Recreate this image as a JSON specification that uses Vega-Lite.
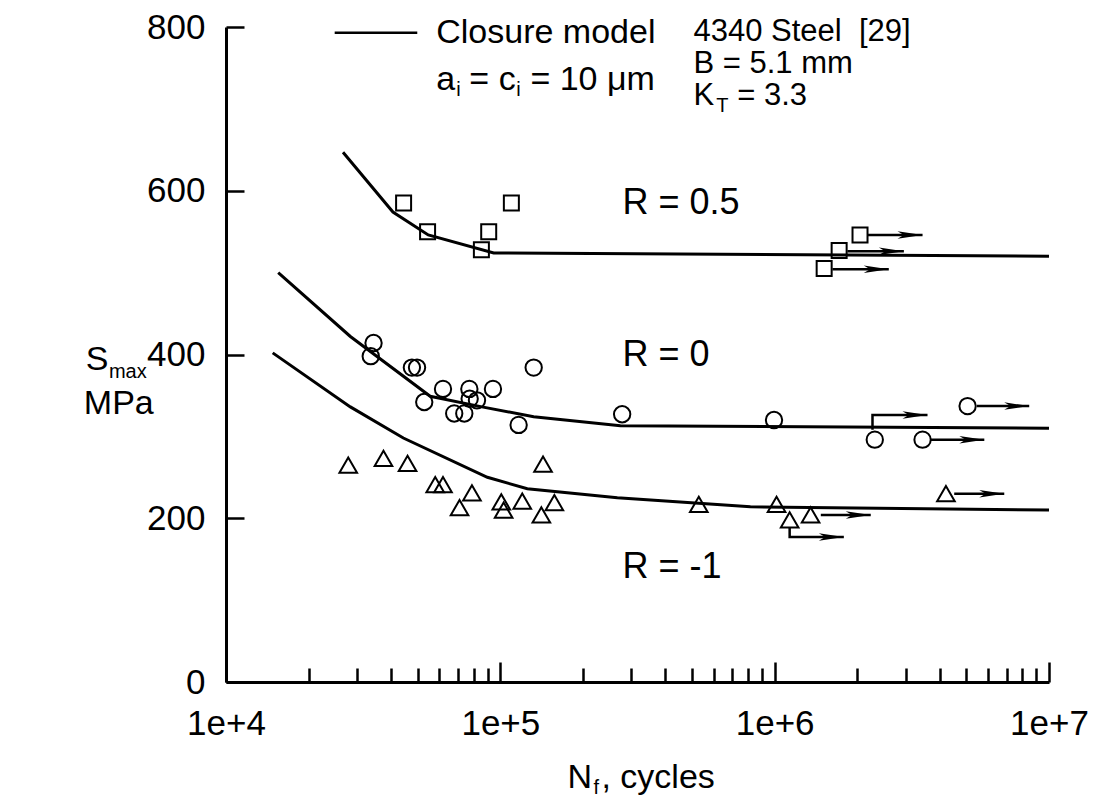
{
  "$schema": "https://vega.github.io/schema/vega-lite/v6.json",
  "width": 823,
  "height": 655,
  "autosize": {"type": "none"},
  "padding": {"left": 226, "top": 27, "right": 45, "bottom": 120},
  "background": "white",
  "config": {
    "view": {"stroke": null},
    "font": "Liberation Sans",
    "axis": {
      "domainColor": "black", "domainWidth": 3, "tickColor": "black", "tickWidth": 2.5,
      "labelColor": "black", "labelFont": "Liberation Sans", "labelFontSize": 35, "grid": false, "labelFlush": false
    }
  },
  "datasets": {
    "curves": [
      {"R": "0.5", "N": 26700, "S": 647}, {"R": "0.5", "N": 40600, "S": 574}, {"R": "0.5", "N": 54600, "S": 546},
      {"R": "0.5", "N": 94600, "S": 524}, {"R": "0.5", "N": 10000000, "S": 520},
      {"R": "0", "N": 15500, "S": 500}, {"R": "0", "N": 28400, "S": 422}, {"R": "0", "N": 55500, "S": 349},
      {"R": "0", "N": 85700, "S": 336}, {"R": "0", "N": 132300, "S": 324}, {"R": "0", "N": 274000, "S": 313},
      {"R": "0", "N": 10000000, "S": 310},
      {"R": "-1", "N": 14800, "S": 402}, {"R": "-1", "N": 28400, "S": 336}, {"R": "-1", "N": 44300, "S": 298},
      {"R": "-1", "N": 89700, "S": 250}, {"R": "-1", "N": 125400, "S": 236}, {"R": "-1", "N": 267000, "S": 225},
      {"R": "-1", "N": 816000, "S": 214}, {"R": "-1", "N": 10000000, "S": 210}
    ],
    "points": [
      {"R": "0.5", "N": 44400, "S": 585}, {"R": "0.5", "N": 54300, "S": 550}, {"R": "0.5", "N": 85300, "S": 528},
      {"R": "0.5", "N": 90700, "S": 550}, {"R": "0.5", "N": 109700, "S": 585}, {"R": "0.5", "N": 1515000, "S": 505},
      {"R": "0.5", "N": 1718000, "S": 527}, {"R": "0.5", "N": 2047000, "S": 546},
      {"R": "0", "N": 33700, "S": 398}, {"R": "0", "N": 34500, "S": 414}, {"R": "0", "N": 47600, "S": 384},
      {"R": "0", "N": 49700, "S": 384}, {"R": "0", "N": 52800, "S": 342}, {"R": "0", "N": 61800, "S": 358},
      {"R": "0", "N": 67900, "S": 328}, {"R": "0", "N": 73900, "S": 328}, {"R": "0", "N": 77100, "S": 358},
      {"R": "0", "N": 77300, "S": 346}, {"R": "0", "N": 82200, "S": 344}, {"R": "0", "N": 94000, "S": 358},
      {"R": "0", "N": 116600, "S": 314}, {"R": "0", "N": 132300, "S": 384}, {"R": "0", "N": 278000, "S": 327},
      {"R": "0", "N": 994500, "S": 320}, {"R": "0", "N": 2317000, "S": 296}, {"R": "0", "N": 3460000, "S": 296},
      {"R": "0", "N": 5050000, "S": 337},
      {"R": "-1", "N": 27900, "S": 265}, {"R": "-1", "N": 37500, "S": 273}, {"R": "-1", "N": 45900, "S": 267},
      {"R": "-1", "N": 57900, "S": 241}, {"R": "-1", "N": 61800, "S": 241}, {"R": "-1", "N": 71000, "S": 213},
      {"R": "-1", "N": 78800, "S": 231}, {"R": "-1", "N": 100800, "S": 220}, {"R": "-1", "N": 102800, "S": 210},
      {"R": "-1", "N": 120200, "S": 221}, {"R": "-1", "N": 141100, "S": 204}, {"R": "-1", "N": 143100, "S": 266},
      {"R": "-1", "N": 157400, "S": 219}, {"R": "-1", "N": 529000, "S": 217}, {"R": "-1", "N": 1016000, "S": 217},
      {"R": "-1", "N": 1134000, "S": 198}, {"R": "-1", "N": 1352000, "S": 204}, {"R": "-1", "N": 4210000, "S": 230}
    ],
    "arrows": [
      {"id": "s1", "o": 1, "N": 2178000, "S": 546, "tip": false}, {"id": "s1", "o": 2, "N": 3460000, "S": 546, "tip": true},
      {"id": "s2", "o": 1, "N": 1841000, "S": 526, "tip": false}, {"id": "s2", "o": 2, "N": 2958000, "S": 526, "tip": true},
      {"id": "s3", "o": 1, "N": 1624000, "S": 504, "tip": false}, {"id": "s3", "o": 2, "N": 2606000, "S": 504, "tip": true},
      {"id": "c1", "o": 1, "N": 5460000, "S": 337, "tip": false}, {"id": "c1", "o": 2, "N": 8470000, "S": 337, "tip": true},
      {"id": "c2", "o": 1, "N": 3707000, "S": 296, "tip": false}, {"id": "c2", "o": 2, "N": 5810000, "S": 296, "tip": true},
      {"id": "c3", "o": 1, "N": 2273000, "S": 308, "tip": false}, {"id": "c3", "o": 2, "N": 2273000, "S": 326, "tip": false},
      {"id": "c3", "o": 3, "N": 3607000, "S": 326, "tip": true},
      {"id": "t1", "o": 1, "N": 4513000, "S": 230, "tip": false}, {"id": "t1", "o": 2, "N": 6869000, "S": 230, "tip": true},
      {"id": "t2", "o": 1, "N": 1134000, "S": 188, "tip": false}, {"id": "t2", "o": 2, "N": 1134000, "S": 177, "tip": false},
      {"id": "t2", "o": 3, "N": 1787000, "S": 177, "tip": true},
      {"id": "t3", "o": 1, "N": 1473000, "S": 204, "tip": false}, {"id": "t3", "o": 2, "N": 2240000, "S": 204, "tip": true}
    ],
    "legendLine": [{"N": 24900, "N2": 49800, "S": 793}],
    "mainText": [
      {"t": "Closure model", "N": 58400, "S": 793},
      {"t": "a", "N": 58400, "S": 735},
      {"t": "= c", "N": 77100, "S": 735},
      {"t": "= 10 μm", "N": 128700, "S": 735},
      {"t": "S", "N": 3084, "S": 393},
      {"t": "MPa", "N": 3032, "S": 339},
      {"t": "N", "N": 175600, "S": -117},
      {"t": ", cycles", "N": 233700, "S": -117}
    ],
    "rightText": [
      {"t": "4340 Steel\u00a0 [29]", "N": 506000, "S": 794},
      {"t": "B = 5.1 mm", "N": 506000, "S": 755},
      {"t": "K", "N": 506000, "S": 716},
      {"t": "= 3.3", "N": 730000, "S": 716}
    ],
    "subText": [
      {"t": "i", "N": 69100, "S": 723},
      {"t": "i", "N": 114400, "S": 723},
      {"t": "T", "N": 612000, "S": 703},
      {"t": "max", "N": 3742, "S": 379},
      {"t": "f", "N": 218500, "S": -129}
    ],
    "rLabels": [
      {"t": "R = 0.5", "N": 278600, "S": 585},
      {"t": "R = 0", "N": 278600, "S": 400},
      {"t": "R = -1", "N": 278600, "S": 141}
    ]
  },
  "layer": [
    {
      "data": {"name": "curves"},
      "mark": {"type": "line", "color": "black", "strokeWidth": 3},
      "encoding": {
        "x": {"field": "N", "type": "quantitative", "scale": {"type": "log", "domain": [10000, 10000000]},
              "axis": {"values": [10000, 100000, 1000000, 10000000], "format": ".0e", "tickSize": -20, "labelPadding": 44, "title": null, "orient": "bottom", "labelFlush": false}},
        "y": {"field": "S", "type": "quantitative", "scale": {"domain": [0, 800], "nice": false},
              "axis": {"values": [0, 200, 400, 600, 800], "tickSize": -18, "labelPadding": 39, "title": null, "orient": "left"}},
        "detail": {"field": "R"}
      }
    },
    {
      "data": {"name": "points"},
      "mark": {"type": "point", "filled": false, "stroke": "black", "strokeWidth": 2, "opacity": 1},
      "encoding": {
        "x": {"field": "N", "type": "quantitative", "scale": {"type": "log", "domain": [10000, 10000000]},
              "axis": {"values": [20000, 30000, 40000, 50000, 60000, 70000, 80000, 90000, 200000, 300000, 400000, 500000, 600000, 700000, 800000, 900000, 2000000, 3000000, 4000000, 5000000, 6000000, 7000000, 8000000, 9000000], "labels": false, "domain": false, "tickSize": -14, "title": null, "orient": "bottom"}},
        "y": {"field": "S", "type": "quantitative", "title": null},
        "shape": {"field": "R", "type": "nominal", "scale": {"domain": ["0.5", "0", "-1"], "range": ["square", "circle", "triangle-up"]}, "legend": null},
        "size": {"field": "R", "type": "nominal", "scale": {"domain": ["0.5", "0", "-1"], "range": [225, 310, 324]}, "legend": null}
      }
    },
    {
      "data": {"name": "arrows"},
      "mark": {"type": "line", "color": "black", "strokeWidth": 2.5},
      "encoding": {
        "x": {"field": "N", "type": "quantitative", "axis": null},
        "y": {"field": "S", "type": "quantitative", "title": null},
        "detail": {"field": "id"},
        "order": {"field": "o"}
      }
    },
    {
      "data": {"name": "arrows"},
      "transform": [{"filter": "datum.tip"}],
      "mark": {"type": "point", "shape": "M0,0L-2,-0.3L-1.5,0L-2,0.3Z", "filled": true, "color": "black", "size": 625, "opacity": 1},
      "encoding": {
        "x": {"field": "N", "type": "quantitative", "axis": null},
        "y": {"field": "S", "type": "quantitative", "title": null}
      }
    },
    {
      "data": {"name": "legendLine"},
      "mark": {"type": "rule", "color": "black", "strokeWidth": 2.5, "clip": false},
      "encoding": {
        "x": {"field": "N", "type": "quantitative", "axis": null},
        "x2": {"field": "N2"},
        "y": {"field": "S", "type": "quantitative", "title": null}
      }
    },
    {
      "data": {"name": "mainText"},
      "mark": {"type": "text", "align": "left", "baseline": "middle", "fontSize": 34, "font": "Liberation Sans", "color": "black", "clip": false},
      "encoding": {
        "x": {"field": "N", "type": "quantitative", "axis": null},
        "y": {"field": "S", "type": "quantitative", "title": null},
        "text": {"field": "t"}
      }
    },
    {
      "data": {"name": "rightText"},
      "mark": {"type": "text", "align": "left", "baseline": "middle", "fontSize": 31, "font": "Liberation Sans", "color": "black", "clip": false},
      "encoding": {
        "x": {"field": "N", "type": "quantitative", "axis": null},
        "y": {"field": "S", "type": "quantitative", "title": null},
        "text": {"field": "t"}
      }
    },
    {
      "data": {"name": "subText"},
      "mark": {"type": "text", "align": "left", "baseline": "middle", "fontSize": 20, "font": "Liberation Sans", "color": "black", "clip": false},
      "encoding": {
        "x": {"field": "N", "type": "quantitative", "axis": null},
        "y": {"field": "S", "type": "quantitative", "title": null},
        "text": {"field": "t"}
      }
    },
    {
      "data": {"name": "rLabels"},
      "mark": {"type": "text", "align": "left", "baseline": "middle", "fontSize": 36, "font": "Liberation Sans", "color": "black", "clip": false},
      "encoding": {
        "x": {"field": "N", "type": "quantitative", "axis": null},
        "y": {"field": "S", "type": "quantitative", "title": null},
        "text": {"field": "t"}
      }
    }
  ],
  "resolve": {"axis": {"x": "independent"}}
}
